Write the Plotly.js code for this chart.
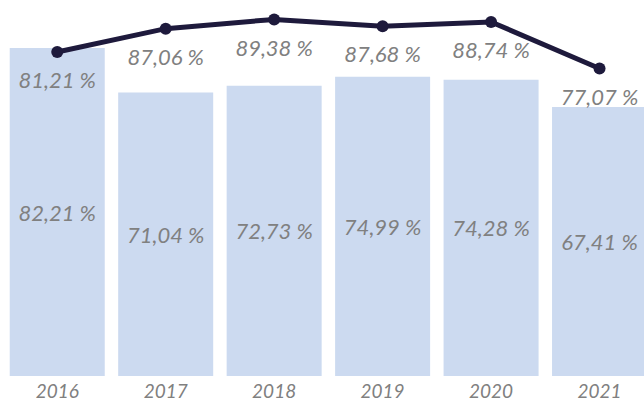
<!DOCTYPE html>
<html><head><meta charset="utf-8">
<script src="https://cdn.plot.ly/plotly-3.0.1.min.js"></script>
<style>html,body{margin:0;padding:0;background:#fff}#c{width:644px;height:402px}</style>
</head><body><div id="c"></div>
<script>
const years = ['2016','2017','2018','2019','2020','2021'];
const barValues = [82.21, 71.04, 72.73, 74.99, 74.28, 67.41];
const lineValues = [81.21, 87.06, 89.38, 87.68, 88.74, 77.07];

const labelFont = {family: 'Lato, "Open Sans", sans-serif', size: 22, color: '#808080', style: 'italic'};

const bars = {
  type: 'bar', x: years, y: barValues,
  marker: {color: '#CCDAF0'},
  texttemplate: '%{y:.2f} %', textposition: 'inside', insidetextanchor: 'middle',
  constraintext: 'none',
  textfont: labelFont, hoverinfo: 'skip', cliponaxis: false
};
const line = {
  type: 'scatter', mode: 'lines+markers', x: years, y: lineValues,
  line: {color: '#1E1A3C', width: 5},
  marker: {color: '#1E1A3C', size: 12},
  cliponaxis: false, hoverinfo: 'skip'
};
const lineLabels = {
  type: 'scatter', mode: 'markers+text', x: years, y: lineValues,
  marker: {size: 30, opacity: 0},
  texttemplate: '%{y:.2f} %', textposition: 'bottom center',
  textfont: labelFont, cliponaxis: false, hoverinfo: 'skip'
};

const layout = {
  width: 644, height: 402,
  margin: {l: 3, r: 0, t: 0, b: 26},
  separators: ', ',
  showlegend: false,
  bargap: 0.124,
  paper_bgcolor: '#fff', plot_bgcolor: '#fff',
  xaxis: {type: 'category', range: [-0.5, 5.41], showgrid: false, zeroline: false, showline: false,
          ticks: '', tickfont: Object.assign({}, labelFont, {size: 19}), ticklabelstandoff: 2},
  yaxis: {range: [0, 94.24], visible: false, showgrid: false, zeroline: false}
};
Plotly.newPlot('c', [bars, line, lineLabels], layout, {staticPlot: true, displayModeBar: false});
</script></body></html>
